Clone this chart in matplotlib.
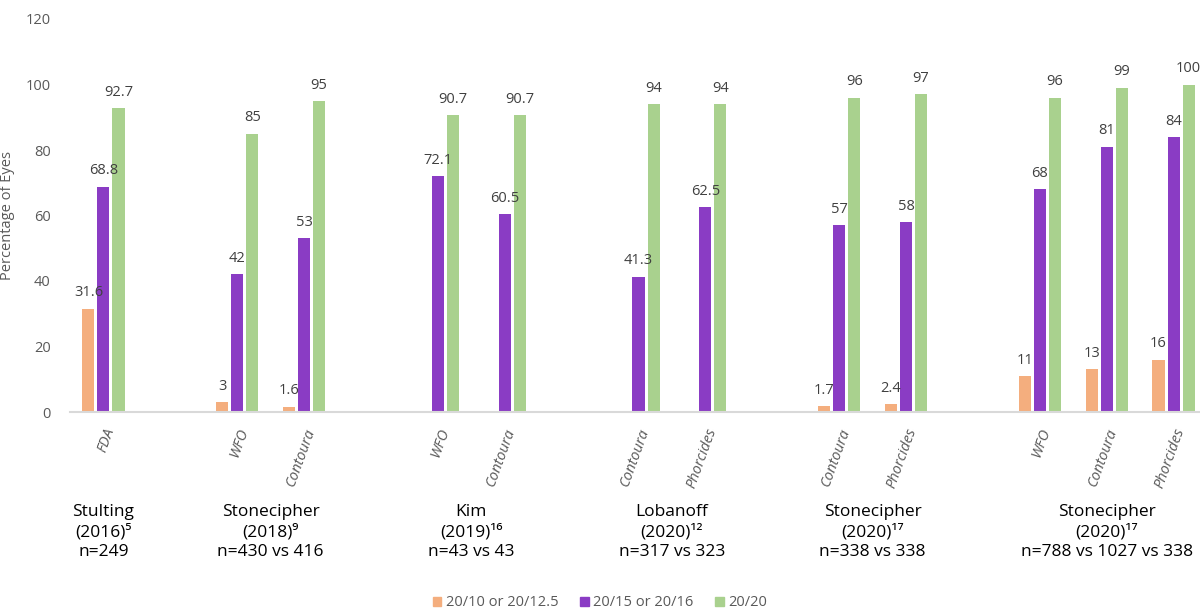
import matplotlib.pyplot as plt
from matplotlib.patches import Patch
import numpy as np

plt.rcParams['font.family'] = ['Open Sans', 'DejaVu Sans']

# 17 slots: blank slots separate the studies
categories = ['FDA', '', 'WFO', 'Contoura', '', 'WFO', 'Contoura', '',
              'Contoura', 'Phorcides', '', 'Contoura', 'Phorcides', '',
              'WFO', 'Contoura', 'Phorcides']
acuity_20_10 = [31.6, None, 3, 1.6, None, None, None, None,
                None, None, None, 1.7, 2.4, None, 11, 13, 16]
acuity_20_15 = [68.8, None, 42, 53, None, 72.1, 60.5, None,
                41.3, 62.5, None, 57, 58, None, 68, 81, 84]
acuity_20_20 = [92.7, None, 85, 95, None, 90.7, 90.7, None,
                94, 94, None, 96, 97, None, 96, 99, 100]

study_labels = ['Stulting\n(2016)\u2075\nn=249',
                'Stonecipher\n(2018)\u2079\nn=430 vs 416',
                'Kim\n(2019)\u00b9\u2076\nn=43 vs 43',
                'Lobanoff\n(2020)\u00b9\u00b2\nn=317 vs 323',
                'Stonecipher\n(2020)\u00b9\u2077\nn=338 vs 338',
                'Stonecipher\n(2020)\u00b9\u2077\nn=788 vs 1027 vs 338']
study_centers = [0, 2.5, 5.5, 8.5, 11.5, 15]

series = [('20/10 or 20/12.5', acuity_20_10, '#F4AE7E'),
          ('20/15 or 20/16', acuity_20_15, '#8A3CC4'),
          ('20/20', acuity_20_20, '#A9D18E')]

fig = plt.figure(figsize=(12, 6.12), dpi=100)
ax = fig.add_axes([70 / 1200, 1 - 412 / 612, 1137 / 1200, 393 / 612])

x = np.arange(len(categories))
width = 0.18
offsets = [-0.225, 0, 0.225]
for (name, vals, color), off in zip(series, offsets):
    for xi, v in zip(x, vals):
        if v is None:
            continue
        ax.bar(xi + off, v, width, color=color)
        ax.annotate(f'{v:g}', (xi + off, v), xytext=(0, 6),
                    textcoords='offset points', ha='center', va='bottom',
                    fontsize=10.5, color='#404040')

ax.set_xlim(-0.5, len(categories) - 0.5)
ax.set_ylim(0, 120)
ax.set_yticks(range(0, 121, 20))
ax.tick_params(axis='y', length=0, pad=14, labelsize=10.5, labelcolor='#595959')
ax.set_xticks(x)
ax.set_xticklabels(categories, rotation=70, ha='right', rotation_mode='anchor',
                   fontsize=10.5, style='italic', color='#595959')
ax.tick_params(axis='x', length=0, pad=10)
for s in ['top', 'right', 'left']:
    ax.spines[s].set_visible(False)
ax.spines['bottom'].set_color('#D9D9D9')
ax.spines['bottom'].set_linewidth(1.5)

ax.set_ylabel('Percentage of Eyes', fontsize=10.5, color='#595959')
ax.yaxis.set_label_coords(-55 / 1137, 0.5)

trans = ax.get_xaxis_transform()
for cx, lab in zip(study_centers, study_labels):
    ax.text(cx, (412 - 504) / 393, lab, transform=trans, ha='center', va='top',
            fontsize=12.5, color='black', linespacing=1.32)

handles = [Patch(color=c, label=n) for n, _, c in series]
fig.legend(handles=handles, loc='center', bbox_to_anchor=(0.5, 1 - 603 / 612),
           ncol=3, frameon=False, fontsize=10.5, handlelength=0.6, handleheight=0.6,
           handletextpad=0.3, columnspacing=1.5, labelcolor='#595959')

fig.savefig('out.png', dpi=100)
